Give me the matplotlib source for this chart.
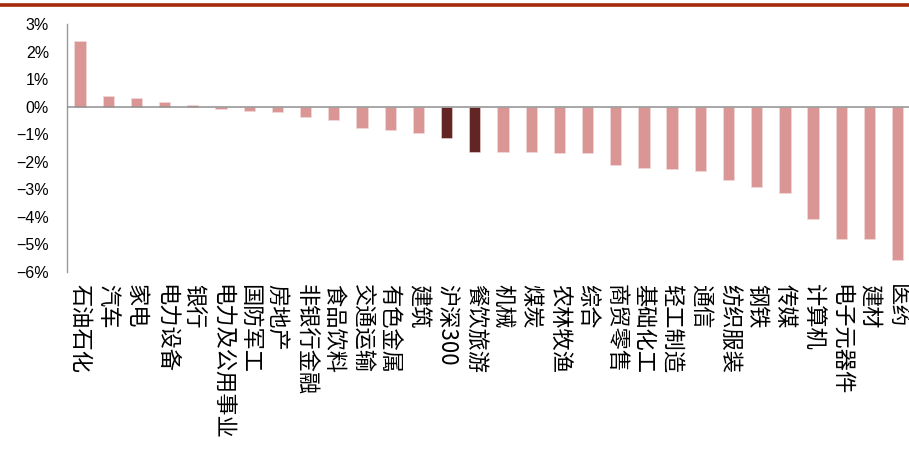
"""Industry returns bar chart."""
import matplotlib.pyplot as plt
from matplotlib.lines import Line2D

plt.rcParams["font.family"] = ["Liberation Sans", "Noto Sans CJK SC", "DejaVu Sans"]

categories = [
    "石油石化", "汽车", "家电", "电力设备", "银行", "电力及公用事业", "国防军工",
    "房地产", "非银行金融", "食品饮料", "交通运输", "有色金属", "建筑", "沪深300",
    "餐饮旅游", "机械", "煤炭", "农林牧渔", "综合", "商贸零售", "基础化工",
    "轻工制造", "通信", "纺织服装", "钢铁", "传媒", "计算机", "电子元器件",
    "建材", "医药",
]
returns = [
    2.40, 0.40, 0.30, 0.16, 0.07, -0.08, -0.15, -0.18, -0.36, -0.50,
    -0.76, -0.84, -0.95, -1.12, -1.63, -1.65, -1.66, -1.68, -1.70, -2.12,
    -2.23, -2.28, -2.33, -2.67, -2.90, -3.14, -4.08, -4.80, -4.81, -5.57,
]
highlight = {"沪深300", "餐饮旅游"}
y_ticks = list(range(-6, 4))

LIGHT = "#DA9694"
DARK = "#632523"

fig = plt.figure(figsize=(9.09, 4.5), dpi=100)
ax = fig.add_axes([0.0737, 0.3956, 0.9263, 0.5511])

x = list(range(len(categories)))
colors = [DARK if c in highlight else LIGHT for c in categories]
ax.bar(x, returns, width=0.4, color=colors, edgecolor="#F2DCDB", linewidth=0.4, zorder=2)
ax.axhline(0, color="#909090", linewidth=1.1, zorder=3)

ax.set_xlim(-0.46, 29.4)
ax.set_ylim(-6, 3)
ax.set_yticks(y_ticks)
ax.set_yticklabels([f"{v}%".replace("-", "\u2212") for v in y_ticks], fontsize=11.5)
ax.tick_params(axis="y", length=0, pad=13)

ax.set_xticks(x)
ax.set_xticklabels(categories, rotation=-90, fontsize=16, va="top", ha="center",
                   family=["Noto Sans CJK SC", "DejaVu Sans"])
ax.tick_params(axis="x", length=0, pad=9)

for side in ("top", "right", "bottom"):
    ax.spines[side].set_visible(False)
ax.spines["left"].set_color("#999999")
ax.spines["left"].set_linewidth(1.0)

fig.add_artist(Line2D([0, 1], [0.989, 0.989], color="#A52A0A", linewidth=2.6,
                      transform=fig.transFigure))

fig.savefig("out.png", dpi=100)
plt.close(fig)
